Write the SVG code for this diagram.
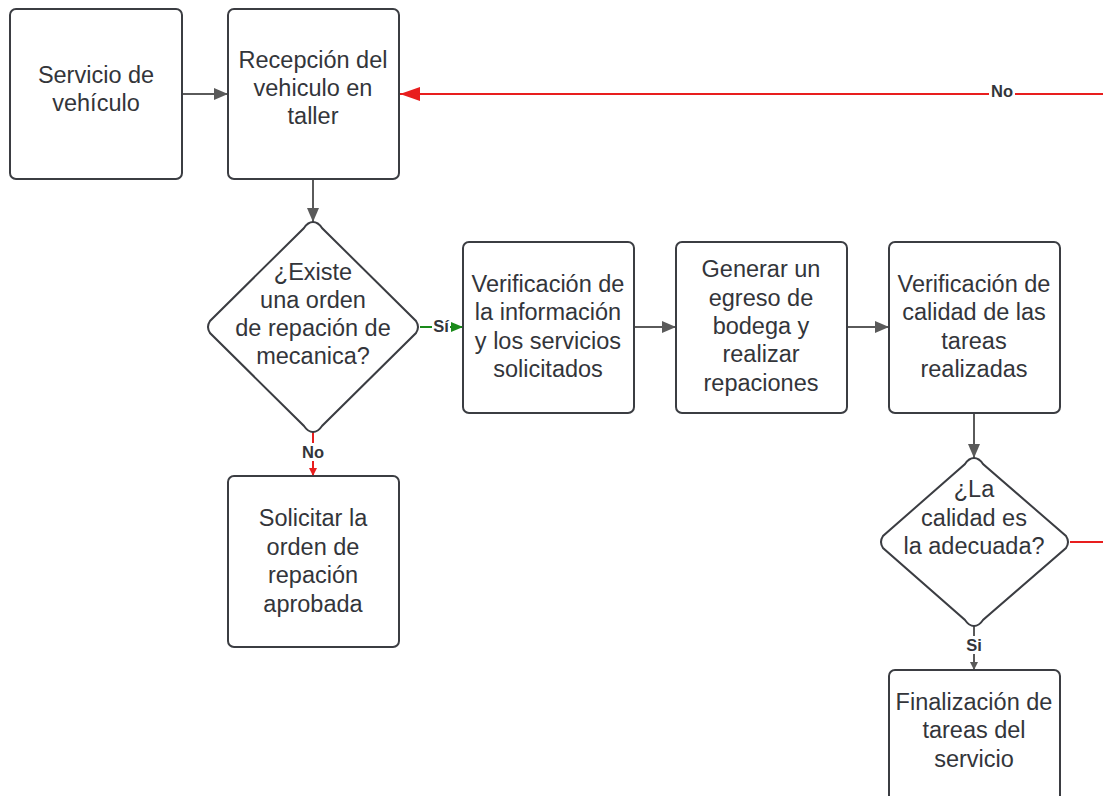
<svg xmlns="http://www.w3.org/2000/svg" width="1103" height="796" viewBox="0 0 1103 796">
<style>
.n{fill:#fff;stroke:#3b3d42;stroke-width:2}
.t{font-family:"Liberation Sans",Arial,sans-serif;font-size:23.5px;fill:#33353a;text-anchor:middle}
.c{fill:none;stroke-width:2}
.g{stroke:#5a5a5a}
.r{stroke:#e81e1e}
.gr{stroke:#1a8a1a}
.l{font-family:"Liberation Sans",Arial,sans-serif;font-size:16.5px;font-weight:bold;fill:#33353a;text-anchor:middle}
</style>
<defs>
<marker id="ag" markerWidth="14" markerHeight="12" refX="14" refY="6" orient="auto" markerUnits="userSpaceOnUse"><path d="M0,0 L14,6 L0,12 z" fill="#5a5a5a"/></marker>
<marker id="ar" markerWidth="20" markerHeight="14" refX="20" refY="7" orient="auto" markerUnits="userSpaceOnUse"><path d="M0,0 L20,7 L0,14 z" fill="#e81e1e"/></marker>
<marker id="agr" markerWidth="12" markerHeight="10" refX="12" refY="5" orient="auto" markerUnits="userSpaceOnUse"><path d="M0,0 L12,5 L0,10 z" fill="#1a8a1a"/></marker>
<marker id="ars" markerWidth="8" markerHeight="8" refX="8" refY="4" orient="auto" markerUnits="userSpaceOnUse"><path d="M0,0 L8,4 L0,8 z" fill="#e81e1e"/></marker>
<marker id="ags" markerWidth="8" markerHeight="8" refX="8" refY="4" orient="auto" markerUnits="userSpaceOnUse"><path d="M0,0 L8,4 L0,8 z" fill="#5a5a5a"/></marker>
</defs>
<rect width="1103" height="796" fill="#fff"/>
<g id="connectors">
<line class="c g" x1="182" y1="94" x2="228" y2="94" marker-end="url(#ag)"/>
<line class="c g" x1="313" y1="179" x2="313" y2="222" marker-end="url(#ag)"/>
<line class="c gr" x1="420" y1="327" x2="463" y2="327" marker-end="url(#agr)"/>
<line class="c g" x1="634" y1="327" x2="676" y2="327" marker-end="url(#ag)"/>
<line class="c g" x1="847" y1="327" x2="889" y2="327" marker-end="url(#ag)"/>
<line class="c g" x1="974" y1="413" x2="974" y2="458" marker-end="url(#ag)"/>
<line class="c r" x1="313" y1="432" x2="313" y2="476" marker-end="url(#ars)"/>
<line class="c g" x1="974" y1="626" x2="974" y2="670" marker-end="url(#ags)"/>
<line class="c r" x1="1070" y1="542" x2="1103" y2="542"/>
<line class="c r" x1="1103" y1="94" x2="400" y2="94" marker-end="url(#ar)"/>
<rect x="432" y="317" width="18" height="18" fill="#fff"/>
<text class="l" x="441" y="332">Sí</text>
<rect x="300" y="443" width="26" height="18" fill="#fff"/>
<text class="l" x="313" y="458">No</text>
<rect x="965" y="636" width="18" height="18" fill="#fff"/>
<text class="l" x="974" y="651">Si</text>
<rect x="989" y="84" width="26" height="18" fill="#fff"/>
<text class="l" x="1002" y="97">No</text>
</g>
<g id="n1"><rect class="n" x="10" y="9" width="172" height="170" rx="6"/>
<text class="t"><tspan x="96" y="83">Servicio de</tspan><tspan x="96" y="111">vehículo</tspan></text></g>
<g id="n2"><rect class="n" x="228" y="9" width="171" height="170" rx="6"/>
<text class="t"><tspan x="313" y="68">Recepción del</tspan><tspan x="313" y="96">vehiculo en</tspan><tspan x="313" y="124">taller</tspan></text></g>
<g id="n3"><path class="n" d="M313,222 Q318,222 322,228 L416,321 Q420,327 416,333 L322,426 Q318,432 313,432 Q308,432 304,426 L210,333 Q206,327 210,321 L304,228 Q308,222 313,222 z"/>
<text class="t"><tspan x="313" y="280">¿Existe</tspan><tspan x="313" y="308">una orden</tspan><tspan x="313" y="336">de repación de</tspan><tspan x="313" y="364">mecanica?</tspan></text></g>
<g id="n4"><rect class="n" x="463" y="242" width="171" height="171" rx="6"/>
<text class="t"><tspan x="548" y="292">Verificación de</tspan><tspan x="548" y="320">la información</tspan><tspan x="548" y="349">y los servicios</tspan><tspan x="548" y="377">solicitados</tspan></text></g>
<g id="n5"><rect class="n" x="676" y="242" width="171" height="171" rx="6"/>
<text class="t"><tspan x="761" y="277">Generar un</tspan><tspan x="761" y="306">egreso de</tspan><tspan x="761" y="334">bodega y</tspan><tspan x="761" y="362">realizar</tspan><tspan x="761" y="391">repaciones</tspan></text></g>
<g id="n6"><rect class="n" x="889" y="242" width="171" height="171" rx="6"/>
<text class="t"><tspan x="974" y="292">Verificación de</tspan><tspan x="974" y="320">calidad de las</tspan><tspan x="974" y="349">tareas</tspan><tspan x="974" y="377">realizadas</tspan></text></g>
<g id="n7"><path class="n" d="M974,458 Q979,458 983,464 L1066,536 Q1070,542 1066,548 L983,620 Q979,626 974,626 Q969,626 965,620 L883,548 Q879,542 883,536 L965,464 Q969,458 974,458 z"/>
<text class="t"><tspan x="974" y="497">¿La</tspan><tspan x="974" y="526">calidad es</tspan><tspan x="974" y="554">la adecuada?</tspan></text></g>
<g id="n8"><rect class="n" x="228" y="476" width="171" height="171" rx="6"/>
<text class="t"><tspan x="313" y="526">Solicitar la</tspan><tspan x="313" y="555">orden de</tspan><tspan x="313" y="583">repación</tspan><tspan x="313" y="612">aprobada</tspan></text></g>
<g id="n9"><rect class="n" x="889" y="670" width="171" height="140" rx="6"/>
<text class="t"><tspan x="974" y="710">Finalización de</tspan><tspan x="974" y="738">tareas del</tspan><tspan x="974" y="767">servicio</tspan></text></g>
</svg>
